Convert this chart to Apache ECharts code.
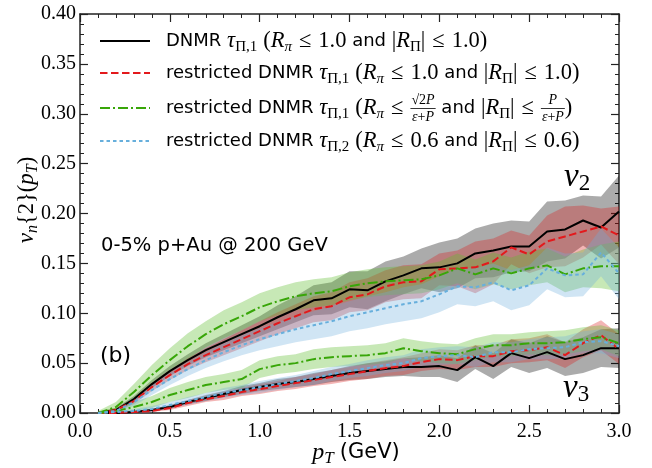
<!DOCTYPE html>
<html>
<head>
<meta charset="utf-8">
<script src="https://cdn.jsdelivr.net/npm/echarts@6/dist/echarts.min.js"></script>
<style>
  html, body { margin: 0; padding: 0; background: #fff; }
  #chart { width: 652px; height: 468px; }
</style>
</head>
<body>
<div id="chart"></div>
<script>
// Transverse-momentum bins (GeV)
const pT = [0.1, 0.2, 0.3, 0.4, 0.5, 0.6, 0.7, 0.8, 0.9, 1.0,
            1.1, 1.2, 1.3, 1.4, 1.5, 1.6, 1.7, 1.8, 1.9, 2.0,
            2.1, 2.2, 2.3, 2.4, 2.5, 2.6, 2.7, 2.8, 2.9, 3.0];

// v2{2}(pT) and its statistical uncertainty
const v2_dnmr = [0.000, 0.003, 0.014, 0.029, 0.042, 0.053, 0.063, 0.071, 0.079, 0.087,
                 0.096, 0.104, 0.113, 0.115, 0.124, 0.123, 0.132, 0.138, 0.145, 0.146,
                 0.150, 0.160, 0.163, 0.167, 0.167, 0.182, 0.184, 0.193, 0.186, 0.202];
const v2_dnmr_err = [0.001, 0.002, 0.003, 0.004, 0.005, 0.006, 0.007, 0.008, 0.009, 0.010,
                     0.012, 0.013, 0.015, 0.016, 0.018, 0.019, 0.020, 0.019, 0.020, 0.025,
                     0.025, 0.025, 0.027, 0.026, 0.025, 0.030, 0.029, 0.025, 0.031, 0.036];
const v2_restr1 = [0.000, 0.003, 0.012, 0.026, 0.038, 0.049, 0.058, 0.066, 0.074, 0.082,
                   0.090, 0.097, 0.104, 0.107, 0.116, 0.119, 0.127, 0.131, 0.132, 0.144,
                   0.145, 0.146, 0.152, 0.166, 0.159, 0.172, 0.177, 0.182, 0.187, 0.178];
const v2_restr1_err = [0.001, 0.002, 0.003, 0.004, 0.005, 0.006, 0.007, 0.008, 0.009, 0.010,
                       0.011, 0.012, 0.013, 0.014, 0.015, 0.016, 0.016, 0.017, 0.017, 0.016,
                       0.018, 0.026, 0.023, 0.017, 0.019, 0.026, 0.030, 0.026, 0.018, 0.029];
const v2_restrP = [0.000, 0.006, 0.021, 0.038, 0.053, 0.067, 0.079, 0.089, 0.097, 0.106,
                   0.112, 0.117, 0.120, 0.122, 0.127, 0.130, 0.132, 0.133, 0.134, 0.138,
                   0.145, 0.139, 0.145, 0.140, 0.145, 0.148, 0.139, 0.145, 0.147, 0.147];
const v2_restrP_err = [0.002, 0.005, 0.008, 0.010, 0.012, 0.013, 0.013, 0.014, 0.014, 0.014,
                       0.014, 0.014, 0.014, 0.014, 0.014, 0.014, 0.014, 0.014, 0.014, 0.014,
                       0.015, 0.015, 0.016, 0.016, 0.017, 0.017, 0.018, 0.019, 0.022, 0.025];
const v2_restr2 = [0.000, 0.002, 0.011, 0.023, 0.034, 0.044, 0.053, 0.061, 0.068, 0.074,
                   0.079, 0.084, 0.088, 0.092, 0.097, 0.101, 0.105, 0.109, 0.112, 0.119,
                   0.127, 0.126, 0.131, 0.123, 0.128, 0.145, 0.138, 0.139, 0.161, 0.140];
const v2_restr2_err = [0.001, 0.002, 0.004, 0.005, 0.006, 0.007, 0.008, 0.009, 0.010, 0.011,
                       0.012, 0.013, 0.014, 0.015, 0.015, 0.016, 0.016, 0.017, 0.017, 0.018,
                       0.018, 0.019, 0.019, 0.020, 0.020, 0.021, 0.022, 0.022, 0.024, 0.026];

// v3{2}(pT) and its statistical uncertainty
const v3_dnmr = [0.000, 0.000, 0.001, 0.003, 0.006, 0.011, 0.015, 0.019, 0.023, 0.026,
                 0.029, 0.031, 0.034, 0.037, 0.040, 0.042, 0.044, 0.046, 0.046, 0.047,
                 0.043, 0.056, 0.047, 0.060, 0.055, 0.061, 0.054, 0.058, 0.065, 0.065];
const v3_dnmr_err = [0.000, 0.000, 0.001, 0.001, 0.002, 0.002, 0.003, 0.003, 0.004, 0.004,
                     0.005, 0.005, 0.006, 0.006, 0.007, 0.008, 0.008, 0.009, 0.010, 0.011,
                     0.012, 0.012, 0.013, 0.014, 0.015, 0.016, 0.017, 0.018, 0.019, 0.020];
const v3_restr1 = [0.000, 0.000, 0.001, 0.002, 0.005, 0.010, 0.014, 0.017, 0.021, 0.024,
                   0.027, 0.030, 0.033, 0.036, 0.039, 0.042, 0.045, 0.047, 0.051, 0.054,
                   0.053, 0.057, 0.057, 0.062, 0.063, 0.066, 0.058, 0.070, 0.078, 0.064];
const v3_restr1_err = [0.000, 0.000, 0.001, 0.001, 0.002, 0.003, 0.003, 0.004, 0.004, 0.005,
                       0.005, 0.006, 0.006, 0.007, 0.007, 0.008, 0.008, 0.009, 0.009, 0.010,
                       0.010, 0.011, 0.011, 0.012, 0.012, 0.013, 0.013, 0.014, 0.015, 0.015];
const v3_restrP = [0.000, 0.002, 0.006, 0.011, 0.018, 0.023, 0.028, 0.031, 0.034, 0.044,
                   0.048, 0.050, 0.054, 0.056, 0.057, 0.058, 0.060, 0.065, 0.062, 0.060,
                   0.059, 0.064, 0.068, 0.068, 0.070, 0.070, 0.071, 0.074, 0.076, 0.070];
const v3_restrP_err = [0.001, 0.003, 0.005, 0.006, 0.007, 0.008, 0.008, 0.008, 0.009, 0.009,
                       0.009, 0.009, 0.010, 0.010, 0.010, 0.010, 0.010, 0.010, 0.010, 0.010,
                       0.010, 0.011, 0.011, 0.011, 0.011, 0.012, 0.012, 0.012, 0.012, 0.013];
const v3_restr2 = [0.000, 0.001, 0.002, 0.004, 0.008, 0.012, 0.016, 0.020, 0.023, 0.026,
                   0.029, 0.032, 0.035, 0.039, 0.042, 0.045, 0.048, 0.050, 0.055, 0.057,
                   0.058, 0.056, 0.061, 0.061, 0.064, 0.065, 0.066, 0.071, 0.072, 0.067];
const v3_restr2_err = [0.000, 0.001, 0.002, 0.003, 0.003, 0.004, 0.004, 0.005, 0.005, 0.006,
                       0.006, 0.006, 0.007, 0.007, 0.007, 0.008, 0.008, 0.008, 0.009, 0.009,
                       0.009, 0.010, 0.010, 0.010, 0.010, 0.011, 0.011, 0.011, 0.012, 0.012];

// Axis ranges
const xRange = [0, 3.0];
const yRange = [0, 0.40];

// ---------------------------------------------------------------------
const chart = echarts.init(document.getElementById('chart'), null, { renderer: 'canvas' });

const COL = {
  black: '#000000',
  red: '#e3191c',
  green: '#38a608',
  blue: '#67afdc'
};
const BAND = {
  black: 'rgba(0,0,0,0.33)',
  red: 'rgba(220,30,30,0.33)',
  green: 'rgba(95,190,45,0.35)',
  blue: 'rgba(110,175,222,0.32)'
};

function bandSeries(vals, errs, fill) {
  return {
    type: 'custom',
    xAxisIndex: 0, yAxisIndex: 0,
    silent: true,
    z: 1,
    clip: true,
    data: [[pT[0], vals[0]]],
    renderItem: function (params, api) {
      const pts = [];
      for (let i = 0; i < pT.length; i++) pts.push(api.coord([pT[i], vals[i] + errs[i]]));
      for (let i = pT.length - 1; i >= 0; i--) pts.push(api.coord([pT[i], Math.max(0, vals[i] - errs[i])]));
      return { type: 'polygon', shape: { points: pts }, style: { fill: fill, stroke: null } };
    }
  };
}

function lineSeries(vals, color, dash) {
  return {
    type: 'line',
    xAxisIndex: 0, yAxisIndex: 0,
    data: pT.map((x, i) => [x, vals[i]]),
    showSymbol: false,
    symbol: 'none',
    silent: true,
    z: 3,
    clip: true,
    lineStyle: { color: color, width: 2, type: dash, cap: 'butt' }
  };
}

const DASH = { solid: 'solid', dashed: [7.5, 3.5], dashdot: [10, 3, 2, 3], dotted: [3.5, 3] };

const series = [
  bandSeries(v2_dnmr, v2_dnmr_err, BAND.black),
  bandSeries(v3_dnmr, v3_dnmr_err, BAND.black),
  bandSeries(v2_restr1, v2_restr1_err, BAND.red),
  bandSeries(v3_restr1, v3_restr1_err, BAND.red),
  bandSeries(v2_restrP, v2_restrP_err, BAND.green),
  bandSeries(v3_restrP, v3_restrP_err, BAND.green),
  bandSeries(v2_restr2, v2_restr2_err, BAND.blue),
  bandSeries(v3_restr2, v3_restr2_err, BAND.blue),
  lineSeries(v2_dnmr, COL.black, DASH.solid),
  lineSeries(v3_dnmr, COL.black, DASH.solid),
  lineSeries(v2_restr1, COL.red, DASH.dashed),
  lineSeries(v3_restr1, COL.red, DASH.dashed),
  lineSeries(v2_restrP, COL.green, DASH.dashdot),
  lineSeries(v3_restrP, COL.green, DASH.dashdot),
  lineSeries(v2_restr2, COL.blue, DASH.dotted),
  lineSeries(v3_restr2, COL.blue, DASH.dotted)
];

// ---------------------------------------------------------------------
// Text layout helpers for the mixed sans / math-style labels
const measureCtx = document.createElement('canvas').getContext('2d');
function textWidth(t, font) { measureCtx.font = font; return measureCtx.measureText(t).width; }

const F = {
  sf: '18px "DejaVu Sans"',
  mi: 'italic 22.5px "Liberation Serif"',
  mr: '22.5px "Liberation Serif"',
  sb: '15px "Liberation Serif"',
  si: 'italic 15px "Liberation Serif"',
  fr: '14px "Liberation Serif"',
  fi: 'italic 14px "Liberation Serif"',
  ann: '19.5px "DejaVu Sans"',
  lab: '22px "DejaVu Sans"',
  big: 'italic 33px "Liberation Serif"',
  bigsub: '23px "Liberation Serif"',
  tmi: 'italic 24px "Liberation Serif"',
  tmr: '23px "Liberation Serif"',
  tsi: 'italic 17px "Liberation Serif"',
  tsf: '21px "DejaVu Sans"',
  ymi: 'italic 23px "Liberation Serif"',
  ymr: '22.5px "Liberation Serif"',
  ysi: 'italic 16px "Liberation Serif"'
};

function textEl(t, x, y, font) {
  return {
    type: 'text', x: x, y: y, silent: true, z: 100,
    style: { text: t, font: font, fill: '#000', align: 'left', verticalAlign: 'middle' }
  };
}

function partsWidth(parts) {
  let w = 0;
  for (const p of parts) {
    if (typeof p === 'number') w += p;
    else if (p.frac) w += fracWidth(p.frac);
    else w += textWidth(p[0], F[p[1]]);
  }
  return w;
}
function fracWidth(fr) { return Math.max(partsWidth(fr[0]), partsWidth(fr[1])) + 2; }

function layout(x, y, parts, out) {
  for (const p of parts) {
    if (typeof p === 'number') { x += p; continue; }
    if (p.frac) {
      const fw = fracWidth(p.frac);
      const nw = partsWidth(p.frac[0]);
      const dw = partsWidth(p.frac[1]);
      layout(x + (fw - nw) / 2, y - 8, p.frac[0], out);
      layout(x + (fw - dw) / 2, y + 9, p.frac[1], out);
      out.push({ type: 'line', silent: true, z: 100,
        shape: { x1: x, y1: y + 0.5, x2: x + fw, y2: y + 0.5 },
        style: { stroke: '#000', lineWidth: 0.8 } });
      x += fw;
      continue;
    }
    out.push(textEl(p[0], x, y + (p[2] || 0), F[p[1]]));
    x += textWidth(p[0], F[p[1]]);
  }
  return x;
}

// Legend rows
const tauSub1 = [['τ', 'mi'], ['Π,1', 'sb', 6]];
const tauSub2 = [['τ', 'mi'], ['Π,2', 'sb', 6]];
const Rpi = [['R', 'mi'], ['π', 'si', 6]];
const absRPi = [['|', 'mr'], ['R', 'mi'], ['Π', 'sb', 6], ['|', 'mr']];
const leq = [7, ['≤', 'mr'], 7];

const legendRows = [
  { color: COL.black, dash: [], parts: [['DNMR ', 'sf'], ...tauSub1, 6, ['(', 'mr'], ...Rpi, ...leq, ['1.0', 'mr'],
      [' and ', 'sf'], ...absRPi, ...leq, ['1.0', 'mr'], [')', 'mr']] },
  { color: COL.red, dash: DASH.dashed, parts: [['restricted DNMR ', 'sf'], ...tauSub1, 6, ['(', 'mr'], ...Rpi, ...leq, ['1.0', 'mr'],
      [' and ', 'sf'], ...absRPi, ...leq, ['1.0', 'mr'], [')', 'mr']] },
  { color: COL.green, dash: DASH.dashdot, parts: [['restricted DNMR ', 'sf'], ...tauSub1, 6, ['(', 'mr'], ...Rpi, ...leq,
      { frac: [[['√', 'fr'], ['2', 'fr'], ['P', 'fi']], [['ε', 'fi'], ['+', 'fr'], ['P', 'fi']]] },
      [' and ', 'sf'], ...absRPi, ...leq,
      { frac: [[['P', 'fi']], [['ε', 'fi'], ['+', 'fr'], ['P', 'fi']]] }, [')', 'mr']] },
  { color: COL.blue, dash: DASH.dotted, parts: [['restricted DNMR ', 'sf'], ...tauSub2, 6, ['(', 'mr'], ...Rpi, ...leq, ['0.6', 'mr'],
      [' and ', 'sf'], ...absRPi, ...leq, ['0.6', 'mr'], [')', 'mr']] }
];
const legendY = [41, 73, 108, 141];

const graphics = [];
legendRows.forEach((row, i) => {
  const y = legendY[i];
  graphics.push({ type: 'line', silent: true, z: 100,
    shape: { x1: 100, y1: y, x2: 150, y2: y },
    style: { stroke: row.color, lineWidth: 2, lineDash: row.dash.length ? row.dash : null } });
  layout(166, y, row.parts, graphics);
});

// In-plot annotations
layout(101, 246, [['0-5% p+Au @ 200 GeV', 'ann']], graphics);
layout(100, 356, [['(b)', 'lab']], graphics);
layout(564, 177, [['v', 'big'], ['2', 'bigsub', 7]], graphics);
layout(563, 388, [['v', 'big'], ['3', 'bigsub', 7]], graphics);

// Axis titles
const xTitle = [['p', 'tmi'], ['T', 'tsi', 6], 6, ['(GeV)', 'tsf']];
layout(356 - partsWidth(xTitle) / 2, 453, xTitle, graphics);

const yTitle = [['v', 'ymi'], ['n', 'ysi', 6], ['{2}(', 'ymr'], ['p', 'ymi'], ['T', 'ysi', 6], [')', 'ymr']];
const yTitleEls = [];
layout(-partsWidth(yTitle) / 2, 0, yTitle, yTitleEls);
graphics.push({ type: 'group', x: 27, y: 200, rotation: Math.PI / 2, children: yTitleEls });

// ---------------------------------------------------------------------
const axisColor = '#222';
function xAxisDef(pos, labels) {
  return {
    type: 'value', position: pos, min: xRange[0], max: xRange[1], interval: 0.5,
    axisLine: { show: true, onZero: false, lineStyle: { color: axisColor, width: 1.5 } },
    axisTick: { show: true, inside: true, length: 8, lineStyle: { color: axisColor, width: 1.2 } },
    minorTick: { show: true, splitNumber: 5, length: 4, lineStyle: { color: axisColor, width: 1 } },
    splitLine: { show: false },
    axisLabel: { show: labels, margin: 9, color: '#000', fontFamily: 'Liberation Serif', fontSize: 20,
      formatter: v => v.toFixed(1) }
  };
}
function yAxisDef(pos, labels) {
  return {
    type: 'value', position: pos, min: yRange[0], max: yRange[1], interval: 0.05,
    axisLine: { show: true, onZero: false, lineStyle: { color: axisColor, width: 1.5 } },
    axisTick: { show: true, inside: true, length: 8, lineStyle: { color: axisColor, width: 1.2 } },
    minorTick: { show: true, splitNumber: 5, length: 4, lineStyle: { color: axisColor, width: 1 } },
    splitLine: { show: false },
    axisLabel: { show: labels, margin: 4, color: '#000', fontFamily: 'Liberation Serif', fontSize: 20,
      formatter: v => v.toFixed(2) }
  };
}

chart.setOption({
  animation: false,
  backgroundColor: '#fff',
  grid: { left: 80, right: 33, top: 14, bottom: 55, containLabel: false },
  xAxis: [xAxisDef('bottom', true), xAxisDef('top', false)],
  yAxis: [yAxisDef('left', true), yAxisDef('right', false)],
  series: series,
  graphic: graphics
});
</script>
</body>
</html>
